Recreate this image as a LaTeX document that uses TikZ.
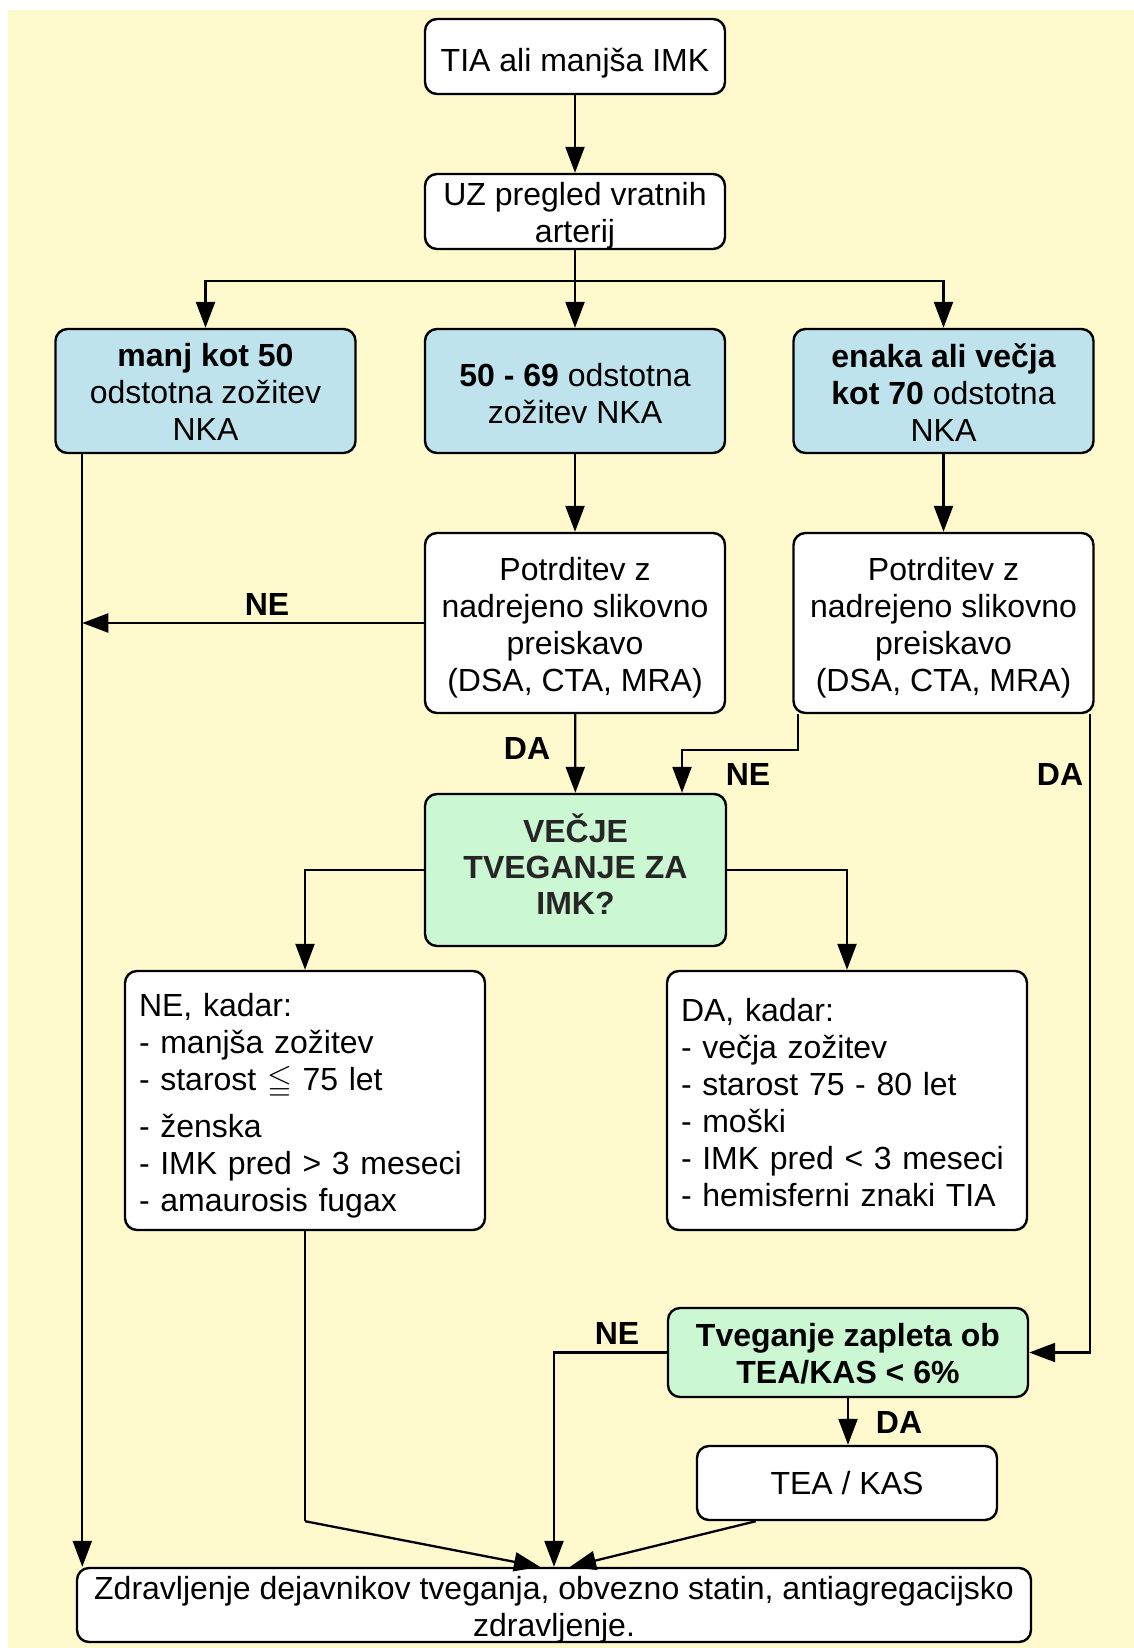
\documentclass[tikz,border=0pt]{standalone}
\usepackage{fontspec}
\usepackage{amssymb}
\setmainfont{Liberation Sans}
\usetikzlibrary{arrows.meta}
\definecolor{bgyellow}{RGB}{255,250,205}
\definecolor{boxblue}{RGB}{190,227,237}
\definecolor{boxgreen}{RGB}{204,247,211}
\newcommand{\vlift}[1]{\rule{0pt}{#1}}
\newcommand{\vdrop}[1]{\rule[-#1]{0pt}{0pt}}
\begin{document}
\begin{tikzpicture}[x=0.5pt,y=-0.5pt,
  box/.style={draw, line width=1.2pt, rounded corners=6pt, fill=white, align=center,
    font=\fontsize{16}{18.5}\selectfont, inner sep=2pt},
  bluebox/.style={box, fill=boxblue, minimum width=150pt, minimum height=62pt},
  listbox/.style={box, align=left, text width=166pt, inner xsep=7pt, minimum height=129.5pt},
  conn/.style={line width=1.15pt, -{Triangle[length=13pt,width=9.5pt]}},
  plain/.style={line width=1.15pt},
  lbl/.style={font=\fontsize{16}{18.5}\selectfont\bfseries}]

\fill[white] (0,0) rectangle (1134,1648);
\fill[bgyellow] (8,10) rectangle (1134,1648);
\useasboundingbox (0,0) rectangle (1134,1648);

% nodes
\node[box, minimum width=150pt, minimum height=37.5pt] (tia) at (575,56.5) {\vlift{18pt}TIA ali manjša IMK};
\node[box, minimum width=150pt, minimum height=37.5pt] (uz) at (575,211.5) {\vlift{12.1pt}UZ pregled vratnih\\\smash{arterij}};

\node[bluebox] (b1) at (205.5,391) {\vlift{12.7pt}{\bfseries manj kot 50}\\odstotna zožitev\\NKA};
\node[bluebox] (b2) at (575,391) {\vlift{13.8pt}{\bfseries 50 - 69} odstotna\\zožitev NKA};
\node[bluebox] (b3) at (943.5,391) {\vlift{13pt}{\bfseries enaka ali večja}\\{\bfseries kot 70} odstotna\\NKA};

\node[box, minimum width=150pt, minimum height=90pt] (p2) at (575,623) {\vlift{15.9pt}Potrditev z\\nadrejeno slikovno\\preiskavo\\(DSA, CTA, MRA)};
\node[box, minimum width=150pt, minimum height=90pt] (p3) at (943.5,623) {\vlift{15.9pt}Potrditev z\\nadrejeno slikovno\\preiskavo\\(DSA, CTA, MRA)};

\node[box, fill=boxgreen, minimum width=150.5pt, minimum height=76pt,
      font=\fontsize{16}{18}\selectfont\bfseries, text=black!85] (risk) at (575.5,870) {VEČJE\\TVEGANJE ZA\\IMK?\vdrop{5.5pt}};

\node[listbox] (ne) at (305,1100.5) {\vlift{16.4pt}NE, kadar:\\- manjša zožitev\\- starost $\leqq$ 75 let\\[5pt]- ženska\\- IMK pred > 3 meseci\\- amaurosis fugax};
\node[listbox] (da) at (847,1100.5) {\vlift{13.3pt}DA, kadar:\\- večja zožitev\\- starost 75 - 80 let\\- moški\\- IMK pred < 3 meseci\\- hemisferni znaki TIA};

\node[box, fill=boxgreen, minimum width=180pt, minimum height=44.5pt,
      font=\fontsize{16}{18.5}\selectfont\bfseries] (tv) at (848,1352.5) {\vlift{12.8pt}Tveganje zapleta ob\\TEA/KAS < 6\%};
\node[box, minimum width=150pt, minimum height=37pt] (tea) at (847,1483) {TEA / KAS};
\node[box, minimum width=477pt, minimum height=37pt] (bot) at (554,1605) {\vlift{12.6pt}Zdravljenje dejavnikov tveganja, obvezno statin, antiagregacijsko\\\smash{zdravljenje.}};

% connectors
\draw[conn] (tia) -- (uz);
\coordinate (split) at (575,281);
\draw[plain] (uz) -- (split);
\draw[conn] (split) -| (b1);
\draw[conn] (split) -| (b3);
\draw[conn] (split) -- (b2);

\draw[conn] (b2) -- (p2);
\draw[conn] (b3) -- (p3);

\coordinate (leftcol) at ([xshift=14pt]b1.south west);
\draw[conn] (leftcol) -- (leftcol |- bot.north);
\draw[conn] (p2.west) -- (p2.west -| leftcol);
\node[lbl] (lne1) at (267,604) {NE};

\draw[conn] (p2) -- (risk);
\node[lbl] (lda1) at (527,748) {DA};

\coordinate (p3a) at ([xshift=3pt]p3.south west);
\coordinate (risktop) at ([xshift=53.25pt]risk.north);
\draw[conn] (p3a) -- ++(0,36) -| (risktop);
\node[lbl] (lne2) at (748,774) {NE};

\coordinate (p3b) at ([xshift=-2.5pt]p3.south east);
\draw[conn] (p3b) |- (tv.east);
\node[lbl] (lda2) at (1060,774) {DA};

\draw[conn] (risk.west) -| (ne.north);
\draw[conn] (risk.east) -| (da.north);

\coordinate (nebend) at ([yshift=-145pt]ne.south);
\draw[plain] (ne.south) -- (nebend);
\draw[conn] (nebend) -- ([xshift=-7pt]bot.north);

\draw[conn] (tv.west) -| (bot.north);
\node[lbl] (lne3) at (617,1333) {NE};

\draw[conn] (tv.south) -- (tv.south |- tea.north);
\node[lbl] (lda3) at (899,1422) {DA};

\draw[conn] ([xshift=30pt]tea.south west) -- ([xshift=8pt]bot.north);
\end{tikzpicture}
\end{document}
